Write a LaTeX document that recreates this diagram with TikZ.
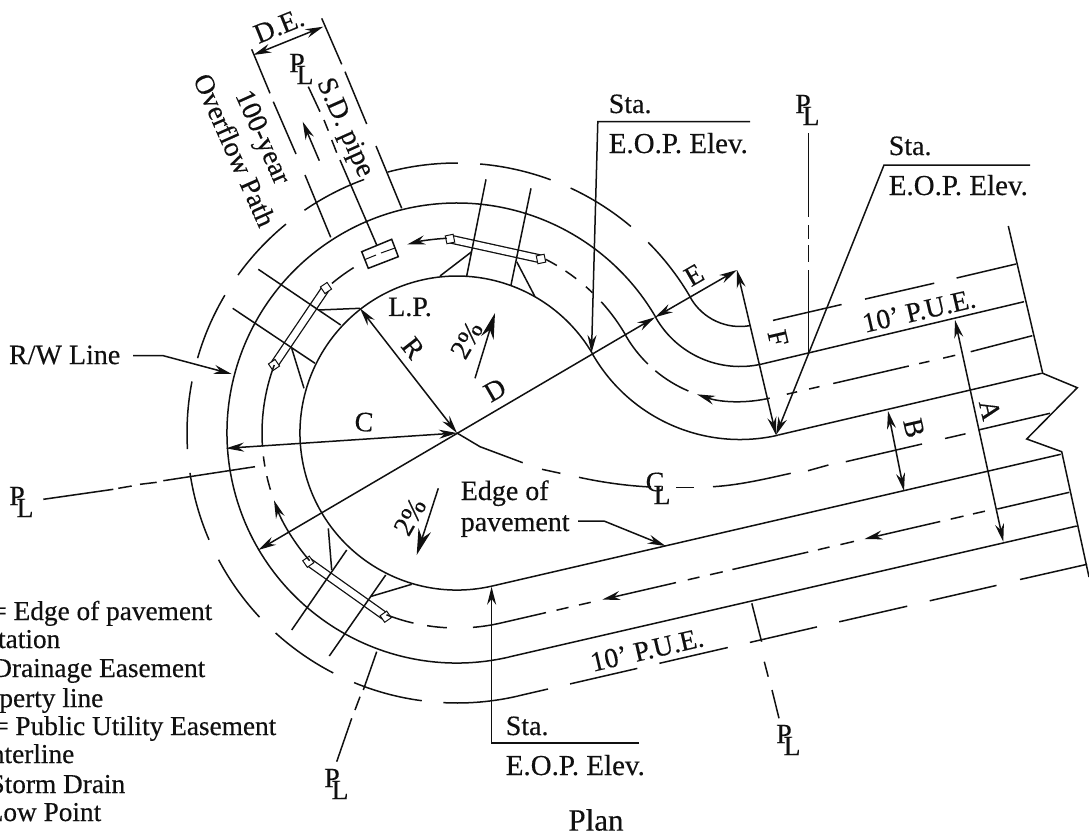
\documentclass[tikz,border=0pt]{standalone}
\usepackage{fontspec}
\setmainfont[FakeBold=0.3]{Liberation Serif}
\usetikzlibrary{arrows.meta}
\definecolor{ink}{HTML}{101010}
\tikzset{
  base/.style={line width=1.5pt,draw=ink,line cap=butt},
  tip/.style={-{Stealth[length=18pt,width=9pt]}},
  tips/.style={{Stealth[length=18pt,width=9pt]}-{Stealth[length=18pt,width=9pt]}},
  bigtip/.style={-{Stealth[length=26pt,width=13pt]}},
  txt/.style={inner sep=0pt,text=ink,font=\fontsize{28}{32}\selectfont},
  legend/.style={inner sep=0pt,text=ink,anchor=base east,font=\fontsize{27.3}{32}\selectfont},
  stat/.style={inner sep=0pt,text=ink,font=\fontsize{29}{32}\selectfont},
  endsq/.style={draw=ink,fill=white,line width=1pt,inner sep=0pt,minimum size=8pt},
}
\newcommand{\ca}[3]{\draw[base] (457,433)++(#1:#2) arc[start angle=#1,end angle=#3,radius=#2];}
\newcommand{\cb}[3]{\draw[base] (740,269.5)++(#1:#2) arc[start angle=#1,end angle=#3,radius=#2];}
\newcommand{\plsym}[3]{\node[txt] (#1p) at (#2,#3) {P}; \node[txt] (#1l) at (#2+8,#3+12) {L};}
\begin{document}
\begin{tikzpicture}[x=1pt,y=-1pt,base]
\useasboundingbox (0,0) rectangle (1089,836);
\fill[white] (0,0) rectangle (1089,836);

% culverts under ramps
\draw[line width=9pt,draw=ink] (450,239)--(541,259);
\draw[line width=6.4pt,draw=white] (450,239)--(541,259);
\node[endsq,rotate=12] (b1a) at (450,239) {};
\node[endsq,rotate=12] (b1b) at (541,259) {};
\draw[line width=9pt,draw=ink] (274,365)--(326,288);
\draw[line width=6.4pt,draw=white] (274,365)--(326,288);
\node[endsq,rotate=-56] (b2a) at (274,365) {};
\node[endsq,rotate=-56] (b2b) at (326,288) {};
\draw[line width=9pt,draw=ink] (308.3,561.7)--(385.7,616.7);
\draw[line width=6.4pt,draw=white] (308.3,561.7)--(385.7,616.7);
\node[endsq,rotate=35] (b3a) at (308.3,561.7) {};
\node[endsq,rotate=35] (b3b) at (385.7,616.7) {};

% edge of pavement
\draw[base] (1060.7,454.3) -- (492.3,586) (492.3,586) arc[start angle=77,end angle=330,radius=157];
\cb{150}{170}{77}
\draw[base] (778.3,435) -- (1041.7,373.3);

% R/W line
\ca{77}{230}{330}
\cb{150}{97}{77}
\draw[base] (762,364) -- (1024,301.7);
\draw[base] (508.8,657) -- (1076.7,526);

% outer line, circle
\ca{77}{270}{92.9}\ca{97.5}{270}{112.4}\ca{117.3}{270}{132.2}\ca{137}{270}{152}
\ca{156.7}{270}{171.5}\ca{176.6}{270}{191}\ca{196.1}{270}{210.7}\ca{215.8}{270}{230.7}
\ca{235.6}{270}{249.9}\ca{255.1}{270}{270.2}\ca{274.9}{270}{290.3}\ca{294.9}{270}{310.1}
\ca{315.1}{270}{330}
\cb{150}{57}{79.6}
% outer line, straight
\draw[base] (773,320.4)--(841.6,304.5) (865,299.1)--(934.2,283.2) (956.6,278)--(1016,264);
\draw[base] (517.8,696)--(548,689) (570.1,683.9)--(637.3,668.4) (659.4,663.3)--(727.8,647.5)
  (749.9,642.4)--(817,626.9) (839.2,621.8)--(907.2,606.2) (929.7,600.8)--(996.5,585.4) (1020,579.5)--(1087,564.3);

% flow line, circle
\ca{77}{195}{85.3}\ca{93}{195}{98.8}\ca{102.9}{195}{111.2}
\draw[base,tip] (457,433)++(139.1:195) arc[start angle=139.1,end angle=159.8,radius=195];
\ca{163.1}{195}{167.2}\ca{170.1}{195}{173.1}\ca{176}{195}{200.4}
\ca{230.1}{195}{238}
\draw[base,tip] (457,433)++(267:195) arc[start angle=267,end angle=255.2,radius=195];
\ca{297}{195}{300.8}\ca{303.8}{195}{307.7}\ca{311.4}{195}{314}\ca{317.7}{195}{330}
\cb{150}{132}{134.3}\cb{129.9}{132}{113}
\draw[base,tip] (740,269.5)++(77:132) arc[start angle=77,end angle=109,radius=132];
% flow line, straight
\draw[base] (786.8,394.2)--(797.1,391.8) (809.1,389)--(819.5,386.6) (833.2,383.5)--(908.8,366)
  (919.1,363.6)--(929.4,361.3) (943.2,358.1)--(955.2,355.3) (970.7,351.7)--(1032.3,335.7);
\draw[base] (500.9,623)--(546,612.6) (556.5,610.2)--(568.5,607.4) (579,605)--(590.7,602.3)
  (687.8,579.8)--(699.4,577.1) (710,574.7)--(722.7,571.8) (732.4,569.5)--(808.2,552)
  (817.9,549.8)--(829.5,547) (840.4,544.6)--(854,541.4)
  (950.7,519.1)--(963.5,516.1) (973,513.9)--(984.9,511.2) (997.3,509)--(1069.3,492.3);
\draw[base,tip] (676,582.6)--(602.3,599.6);
\draw[base,tip] (940.2,521.5)--(864.5,539);

% inlet
\draw[base] (361.7,251.7)--(391.7,239.3)--(398.3,256.7)--(368.3,268.3)--cycle;
\draw[base,line width=1pt] (365,259.5)--(376,255) (381,253)--(395,248);

% ramp lines
\draw[base] (486,179.3)--(466.7,276) (531,188.3)--(511,285);
\draw[base] (471.7,251.7)--(440,276) (516.7,261.7)--(535,296.7);
\draw[base] (258.3,269.3)--(340.7,325) (232.7,308.3)--(315,363.3);
\draw[base] (318.3,310)--(360,308.3) (291.7,348.3)--(304,388.3);
\draw[base] (346.7,550)--(291.7,630) (385.7,575)--(329.3,656);
\draw[base] (328.3,528.3)--(331.7,570) (411.7,584.3)--(370,596.7);

% pipe and easement
\draw[base,tips] (253.3,55)--(323.3,26.7);
\draw[base] (251.7,49.3)--(270,93.3) (273.3,101.7)--(296,154) (305,175)--(330.7,237.3);
\draw[base] (321.7,18.3)--(341.7,64.3) (345,71.7)--(366.7,124) (376,146)--(401.7,208.3);
\draw[base] (308.3,86.7)--(320,111.7) (324,120)--(328.3,130.7) (331.7,140)--(336.7,152.7) (340,160)--(376.7,245);
\draw[base,tip] (319.3,160.7)--(302.7,121.7);

% dimensions
\draw[base,tips] (360,308.3)--(457,433);
\draw[base,tips] (226,448.3)--(457,433);
\draw[base,tips] (258.3,550)--(655,317.3);
\draw[base,tips] (655,317.3)--(737,270);
\draw[base,tips] (737,270)--(776,435);
\draw[base,tips] (955,320)--(1003.3,541.7);
\draw[base,tips] (888,411)--(904,491);
\draw[base,bigtip] (475,378.3)--(495,313);
\draw[base,bigtip] (438.3,488.3)--(416.7,555);

% station leaders
\draw[base,tip] (750,121.7)--(597.8,121.7)--(591.5,353);
\draw[base,tip] (1030,165)--(884,165)--(776,435);
\draw[base,tip] (639,743)--(491.6,743)--(491.6,586.7);
\draw[base,tip] (133,355.7)--(163.3,355.7)--(231.7,374);
\draw[base,tip] (578,521)--(604,521)--(665.6,546);

% property lines
\draw[base] (808.5,133)--(808.5,216.7) (808.5,225)--(808.5,239) (808.5,245)--(808.5,261.7) (808.5,270)--(808.5,352);
\draw[base] (43.3,499.3)--(113.3,489.3) (118.3,488.3)--(131.7,486) (140,484.3)--(156.7,482.3) (163.3,480.7)--(255,466.7);
\draw[base] (376.7,651.7)--(363.3,690) (360,696.7)--(355,710) (351.7,718.3)--(336.7,761.7);
\draw[base] (751.8,603.3)--(761.6,641.7) (764.3,661.7)--(768.2,676.7) (772,690)--(779,718.3);

% centre line
\draw[base] (457,433)--(480,446.7)--(522.7,462.7) (542,469.3)--(560.4,473.3);
\draw[base] (579,477.3) .. controls (605,483) and (630,486) .. (651,487);
\draw[base] (676,487.3)--(693.6,487.3);
\draw[base] (713,486.7) .. controls (740,485) and (765,479) .. (790.7,473.3);
\draw[base] (808,470.7)--(828.4,465) (845.8,461.7)--(922,444) (945,438.5)--(965.5,433.8) (978.3,430)--(1050,413.3);

% break line
\draw[base] (1008.3,226)--(1042.7,373.3)--(1077.3,387.7)--(1026.7,439)--(1061.7,451.7)--(1089,577);

% symbols
\plsym{plA}{297}{63}
\plsym{plB}{803}{104}
\plsym{plC}{17}{496}
\plsym{plD}{332}{778}
\plsym{plE}{784}{734}
\node[txt] (clc) at (655,482) {C};
\node[txt] (cll) at (662,495) {L};

% labels
\node[txt,rotate=22] (de) at (279,26) {D.E.};
\node[txt,rotate=-66] (yr) at (261,138) {100-year};
\node[txt,rotate=-66] (ov) at (235,150) {Overflow Path};
\node[txt,rotate=-66] (sd) at (344,128) {S.D. pipe};
\node[txt] (lp) at (410,307) {L.P.};
\node[txt,rotate=-52] (rr) at (413,348) {R};
\node[txt,rotate=60] (p1) at (466.7,340) {2\%};
\node[txt,rotate=30] (dd) at (495,390) {D};
\node[txt,rotate=-4] (cc) at (364,422) {C};
\node[txt,rotate=60] (p2) at (410,516.7) {2\%};
\node[txt,anchor=base west] (e1) at (460,500) {Edge of};
\node[txt,anchor=base west] (e2) at (460,531) {pavement};
\node[txt,anchor=east] (rw) at (121,355) {R/W Line};
\node[txt,rotate=-77] (aa) at (990,410) {A};
\node[txt,rotate=-77] (bb) at (914,428) {B};
\node[txt,rotate=-77] (ff) at (778,338) {F};
\node[txt,rotate=30] (ee) at (694,275) {E};
\node[txt,rotate=13] (pu1) at (919,311) {10' P.U.E.};
\node[txt,rotate=13] (pu2) at (647,650) {10' P.U.E.};
\node[txt,anchor=base west] (s1) at (608,113) {Sta.};
\node[stat,anchor=base west] (s1b) at (608,153) {E.O.P. Elev.};
\node[txt,anchor=base west] (s2) at (888,155) {Sta.};
\node[stat,anchor=base west] (s2b) at (888,195) {E.O.P. Elev.};
\node[txt,anchor=base west] (s3) at (505,735) {Sta.};
\node[stat,anchor=base west] (s3b) at (505,775) {E.O.P. Elev.};
\node[inner sep=0pt,text=ink,font=\fontsize{31}{34}\selectfont] (pl) at (596,820) {Plan};
\node[legend] (l1) at (213,620) {= Edge of pavement};
\node[legend] (l2) at (61,648) {tation};
\node[legend] (l3) at (206,677) {Drainage Easement};
\node[legend] (l4) at (104,707) {perty line};
\node[legend] (l5) at (277,735) {= Public Utility Easement};
\node[legend] (l6) at (75,763) {nterline};
\node[legend] (l7) at (126,793) {Storm Drain};
\node[legend] (l8) at (102,821) {Low Point};
\end{tikzpicture}
\end{document}
